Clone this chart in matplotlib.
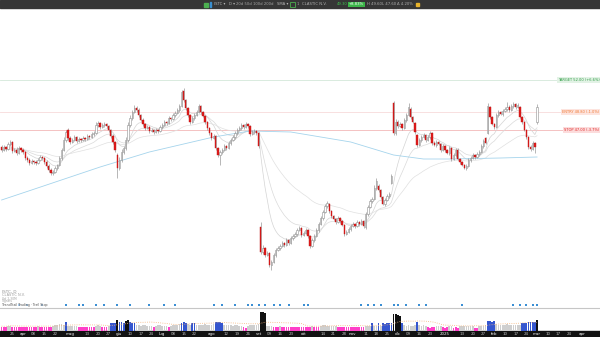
# Daily candlestick chart with levels, signals and heat-coloured volume
import numpy as np
import pandas as pd
import matplotlib
matplotlib.use('Agg')
import matplotlib.pyplot as plt
import matplotlib.patches as patches
from matplotlib.lines import Line2D

start_date = '2024-03-18'

opens = [
    45.3, 45.0, 45.3, 45.1, 45.6, 45.8, 44.9, 45.0, 44.7, 45.2,
    45.0, 44.8, 44.2, 44.0, 43.7, 43.9, 43.8, 43.7, 44.0, 44.3,
    44.2, 43.8, 43.4, 43.0, 42.7, 42.8, 43.2, 43.5, 44.2, 45.0,
    46.0, 47.0, 46.2, 45.8, 46.0, 46.3, 45.9, 46.1, 46.0, 46.2,
    46.1, 46.4, 46.3, 46.6, 46.7, 47.5, 47.7, 47.3, 47.5, 47.6,
    47.4, 47.0, 46.4, 45.8, 44.5, 43.2, 44.0, 44.8, 45.2, 46.0,
    47.5, 48.2, 48.8, 49.2, 49.0, 48.5, 48.0, 47.6, 47.2, 47.3,
    46.9, 47.0, 46.8, 47.0, 46.9, 47.3, 47.5, 47.8, 47.7, 48.2,
    48.1, 48.5, 48.7, 49.0, 49.4, 50.9, 50.0, 49.2, 48.5, 47.8,
    48.2, 48.5, 48.8, 49.4, 48.8, 48.4, 47.8, 47.2, 46.7, 46.2,
    46.4, 45.2, 44.5, 44.8, 45.0, 45.4, 45.2, 45.7, 46.0, 46.3,
    46.7, 47.0, 47.2, 47.5, 47.3, 47.6, 47.4, 46.6, 46.8, 46.9,
    46.7, 37.3, 34.8, 35.2, 34.5, 34.7, 33.5, 33.8, 34.5, 35.0,
    35.2, 35.4, 35.7, 35.5, 36.0, 35.7, 36.2, 36.4, 36.6, 37.0,
    37.2, 36.5, 36.7, 37.0, 36.4, 35.4, 36.0, 36.4, 37.0, 37.6,
    38.2, 38.8, 39.4, 39.6, 38.9, 38.4, 38.1, 37.8, 38.2, 37.9,
    37.5, 36.6, 36.8, 37.1, 37.4, 37.6, 37.4, 37.8, 37.6, 37.9,
    37.3, 38.6, 39.3, 39.9, 40.1, 41.2, 41.4, 41.0, 40.3, 39.6,
    40.0, 40.4, 41.7, 49.7, 46.7, 47.8, 47.4, 47.6, 47.2, 48.0,
    48.5, 49.1, 48.3, 47.7, 46.5, 45.5, 46.0, 46.3, 46.5, 46.0,
    46.3, 46.7, 45.7, 45.5, 45.8, 45.6, 45.0, 45.4, 45.0, 44.7,
    45.2, 44.1, 44.5, 45.0, 44.1, 43.8, 43.5, 43.2, 43.4, 44.0,
    44.2, 44.5, 44.3, 44.6, 44.8, 45.4, 46.2, 46.7, 49.3, 48.3,
    47.6, 47.3, 48.5, 48.8, 48.6, 48.9, 49.1, 49.3, 49.0, 49.4,
    49.6, 49.3, 49.3, 48.3, 47.8, 47.0, 46.3, 45.3, 45.1, 45.7,
    47.8,
]
highs = [
    45.5, 45.5, 45.4, 45.8, 46.0, 45.9, 45.2, 45.3, 45.4, 45.3,
    45.2, 44.9, 44.4, 44.2, 44.1, 44.0, 44.0, 44.2, 44.5, 44.4,
    44.3, 44.0, 43.6, 43.2, 43.0, 43.4, 43.6, 44.4, 45.2, 46.3,
    47.0, 47.2, 46.4, 46.2, 46.5, 46.4, 46.3, 46.2, 46.4, 46.3,
    46.6, 46.5, 46.8, 46.9, 47.8, 47.9, 47.8, 47.7, 47.8, 47.7,
    47.5, 47.1, 46.6, 45.9, 44.7, 44.3, 45.1, 45.4, 46.3, 47.8,
    48.5, 49.0, 49.5, 49.4, 49.2, 48.6, 48.2, 47.7, 47.5, 47.4,
    47.2, 47.1, 47.2, 47.1, 47.5, 47.7, 48.0, 47.9, 48.4, 48.3,
    48.7, 48.9, 49.2, 49.6, 51.0, 51.2, 50.1, 49.3, 48.6, 48.4,
    48.7, 49.0, 49.6, 49.5, 48.9, 48.5, 47.9, 47.3, 46.8, 46.6,
    46.5, 45.3, 45.0, 45.2, 45.6, 45.5, 45.9, 46.2, 46.5, 46.9,
    47.2, 47.4, 47.7, 47.6, 47.8, 47.7, 47.5, 47.0, 47.1, 47.0,
    46.8, 37.8, 35.5, 35.3, 34.9, 34.8, 34.0, 34.7, 35.2, 35.4,
    35.6, 35.9, 35.8, 36.2, 36.1, 36.4, 36.6, 36.8, 37.2, 37.4,
    37.3, 36.9, 37.2, 37.1, 36.5, 36.2, 36.6, 37.2, 37.8, 38.4,
    39.0, 39.6, 39.9, 39.7, 39.0, 38.5, 38.2, 38.4, 38.3, 38.0,
    37.6, 37.0, 37.3, 37.6, 37.8, 37.7, 38.0, 37.9, 38.1, 38.0,
    38.8, 39.5, 40.1, 40.3, 41.5, 42.2, 41.6, 41.1, 40.4, 40.2,
    40.6, 40.8, 42.6, 49.9, 48.1, 48.0, 47.8, 47.7, 48.2, 48.7,
    49.7, 49.3, 48.4, 47.8, 46.6, 46.2, 46.5, 46.7, 46.6, 46.5,
    46.9, 46.8, 45.9, 46.0, 45.9, 45.7, 45.6, 45.5, 45.1, 45.4,
    45.3, 44.7, 45.2, 45.2, 44.2, 43.9, 43.6, 43.6, 44.2, 44.4,
    44.7, 44.6, 44.8, 45.0, 45.6, 46.1, 46.3, 49.7, 49.4, 48.4,
    47.7, 48.7, 49.0, 48.9, 49.1, 49.3, 49.8, 49.5, 49.6, 49.8,
    49.7, 49.7, 49.4, 48.4, 47.9, 47.1, 46.4, 45.5, 45.9, 45.8,
    49.6,
]
lows = [
    44.8, 44.9, 44.9, 45.0, 45.4, 44.7, 44.8, 44.5, 44.6, 44.8,
    44.6, 44.0, 43.8, 43.5, 43.6, 43.6, 43.5, 43.6, 43.9, 44.0,
    43.6, 43.2, 42.8, 42.5, 42.5, 42.7, 43.0, 43.4, 44.0, 44.9,
    45.8, 46.0, 45.6, 45.7, 45.9, 45.7, 45.8, 45.8, 45.9, 45.9,
    46.0, 46.1, 46.2, 46.4, 46.6, 47.3, 47.1, 47.2, 47.3, 47.2,
    46.8, 46.2, 45.6, 44.8, 42.2, 43.0, 43.8, 44.6, 45.0, 45.8,
    47.3, 48.0, 48.7, 48.8, 48.3, 47.9, 47.4, 47.0, 47.1, 46.7,
    46.8, 46.6, 46.7, 46.7, 46.8, 47.1, 47.4, 47.5, 47.6, 47.9,
    48.0, 48.3, 48.6, 48.8, 49.3, 49.8, 49.0, 48.3, 47.6, 47.7,
    48.0, 48.4, 48.7, 48.6, 48.3, 47.6, 47.0, 46.5, 46.0, 46.1,
    45.0, 44.3, 43.5, 44.6, 44.9, 45.0, 45.1, 45.5, 45.9, 46.1,
    46.5, 46.9, 47.0, 47.1, 47.2, 47.2, 46.4, 46.5, 46.6, 46.5,
    45.2, 34.6, 34.6, 34.3, 34.4, 33.3, 33.0, 33.7, 34.3, 34.9,
    35.0, 35.3, 35.3, 35.4, 35.5, 35.6, 36.0, 36.3, 36.4, 36.9,
    36.3, 36.4, 36.6, 36.2, 35.2, 35.3, 35.8, 36.3, 36.8, 37.5,
    38.0, 38.7, 39.2, 38.7, 38.2, 38.0, 37.6, 37.7, 37.7, 37.4,
    36.4, 36.5, 36.7, 36.9, 37.3, 37.2, 37.3, 37.4, 37.5, 37.2,
    37.1, 38.4, 39.2, 39.7, 40.0, 41.0, 40.8, 40.1, 39.5, 39.4,
    39.9, 40.2, 41.6, 46.5, 46.5, 47.2, 47.3, 47.0, 47.1, 47.8,
    48.4, 48.1, 47.7, 46.6, 45.3, 45.4, 45.8, 46.2, 45.8, 45.9,
    46.1, 45.5, 45.4, 45.3, 45.5, 44.8, 44.9, 44.8, 44.6, 44.5,
    43.9, 44.0, 44.3, 44.0, 43.6, 43.4, 43.1, 43.0, 43.3, 43.8,
    44.1, 44.1, 44.2, 44.4, 44.7, 45.2, 45.6, 46.6, 48.1, 47.5,
    47.1, 47.2, 48.3, 48.5, 48.4, 48.8, 48.9, 48.8, 48.9, 49.2,
    49.1, 49.2, 48.2, 47.6, 46.9, 46.1, 45.1, 44.9, 45.0, 44.7,
    47.6,
]
closes = [
    45.0, 45.3, 45.1, 45.6, 45.8, 44.9, 45.0, 44.7, 45.2, 45.0,
    44.8, 44.2, 44.0, 43.7, 43.9, 43.8, 43.7, 44.0, 44.3, 44.2,
    43.8, 43.4, 43.0, 42.7, 42.8, 43.2, 43.5, 44.2, 45.0, 46.0,
    46.8, 46.2, 45.8, 46.0, 46.3, 45.9, 46.1, 46.0, 46.2, 46.1,
    46.4, 46.3, 46.6, 46.7, 47.5, 47.7, 47.3, 47.5, 47.6, 47.4,
    47.0, 46.4, 45.8, 45.0, 43.2, 44.0, 44.8, 45.2, 46.0, 47.5,
    48.2, 48.8, 49.2, 49.0, 48.5, 48.0, 47.6, 47.2, 47.3, 46.9,
    47.0, 46.8, 47.0, 46.9, 47.3, 47.5, 47.8, 47.7, 48.2, 48.1,
    48.5, 48.7, 49.0, 49.4, 50.8, 50.0, 49.2, 48.5, 47.8, 48.2,
    48.5, 48.8, 49.4, 48.8, 48.4, 47.8, 47.2, 46.7, 46.2, 46.4,
    45.2, 44.5, 44.8, 45.0, 45.4, 45.2, 45.7, 46.0, 46.3, 46.7,
    47.0, 47.2, 47.5, 47.3, 47.6, 47.4, 46.6, 46.8, 46.9, 46.7,
    45.4, 34.8, 35.2, 34.5, 34.7, 33.5, 33.8, 34.5, 35.0, 35.2,
    35.4, 35.7, 35.5, 36.0, 35.7, 36.2, 36.4, 36.6, 37.0, 37.2,
    36.5, 36.7, 37.0, 36.4, 35.4, 36.0, 36.4, 37.0, 37.6, 38.2,
    38.8, 39.4, 39.7, 38.9, 38.4, 38.1, 37.8, 38.2, 37.9, 37.5,
    36.6, 36.8, 37.1, 37.4, 37.6, 37.4, 37.8, 37.6, 37.9, 37.4,
    38.6, 39.3, 39.9, 40.1, 41.2, 41.9, 41.0, 40.3, 39.6, 40.0,
    40.4, 40.6, 42.4, 46.7, 47.8, 47.4, 47.6, 47.2, 48.0, 48.5,
    49.3, 48.3, 47.8, 46.8, 45.5, 46.0, 46.3, 46.5, 46.0, 46.3,
    46.7, 45.7, 45.5, 45.8, 45.6, 45.0, 45.4, 45.0, 44.7, 45.2,
    44.1, 44.5, 45.0, 44.1, 43.8, 43.5, 43.2, 43.4, 44.0, 44.2,
    44.5, 44.3, 44.6, 44.8, 45.4, 45.9, 45.7, 49.4, 48.3, 47.6,
    47.3, 48.5, 48.8, 48.6, 48.9, 49.1, 49.3, 49.0, 49.4, 49.6,
    49.3, 49.5, 48.3, 47.8, 47.0, 46.3, 45.3, 45.1, 45.7, 45.3,
    49.3,
]
# volume in millions of shares
volumes = [
    0.85, 0.8, 0.82, 1.05, 1.1, 0.8, 0.78, 0.82, 0.8, 0.8,
    0.78, 0.85, 0.82, 0.8, 0.85, 0.8, 0.78, 1.05, 0.8, 0.82,
    0.85, 0.8, 0.78, 0.8, 1.1, 1.2, 1.3, 1.4, 1.35, 1.3,
    1.85, 1.1, 1.05, 1.0, 1.05, 1.1, 0.8, 0.82, 0.85, 0.8,
    0.78, 0.82, 0.8, 0.85, 1.1, 1.15, 1.05, 0.85, 0.8, 0.82,
    1.1, 1.6, 1.65, 1.7, 2.15, 1.8, 1.75, 1.7, 2.1, 2.15,
    1.9, 1.7, 1.6, 1.3, 1.2, 1.1, 1.15, 1.2, 1.1, 1.05,
    1.1, 0.85, 1.1, 1.15, 1.2, 1.1, 1.05, 1.1, 0.8, 1.1,
    1.2, 1.25, 1.3, 1.4, 1.7, 1.75, 1.6, 1.4, 1.3, 1.7,
    1.65, 1.3, 1.25, 1.2, 1.3, 1.35, 1.2, 1.25, 1.3, 1.4,
    1.8, 1.9, 1.85, 1.6, 1.3, 1.2, 1.15, 1.2, 1.1, 1.15,
    1.2, 1.1, 1.05, 0.75, 0.7, 1.1, 1.2, 1.3, 1.25, 1.3,
    1.4, 3.8, 3.75, 3.7, 1.1, 1.05, 1.0, 0.85, 0.8, 0.85,
    1.0, 0.82, 0.8, 0.85, 0.8, 0.82, 0.78, 0.8, 0.85, 0.82,
    0.8, 0.85, 0.8, 0.78, 0.85, 1.0, 0.82, 0.8, 0.85, 1.1,
    1.15, 1.2, 1.1, 1.05, 1.1, 1.0, 1.05, 0.8, 0.85, 0.8,
    0.82, 0.85, 0.8, 0.78, 0.82, 0.8, 0.85, 0.8, 0.82, 0.78,
    1.0, 1.1, 1.05, 1.6, 1.1, 1.05, 1.55, 1.1, 1.55, 1.5,
    1.6, 1.55, 1.7, 3.45, 3.35, 3.2, 3.0, 1.6, 1.2, 1.1,
    1.15, 1.05, 1.1, 1.2, 1.8, 1.2, 1.1, 1.15, 1.05, 0.75,
    0.7, 0.75, 0.8, 1.0, 1.05, 1.0, 0.75, 0.7, 0.75, 1.05,
    1.0, 0.7, 0.75, 0.7, 1.0, 1.05, 1.1, 1.0, 1.05, 1.1,
    1.0, 0.7, 0.65, 1.0, 1.05, 1.1, 1.2, 1.95, 1.95, 1.9,
    1.95, 1.4, 1.3, 1.25, 1.2, 1.3, 1.35, 1.25, 1.2, 1.3,
    1.25, 1.2, 1.3, 1.55, 1.6, 1.7, 1.8, 1.85, 1.8, 1.75,
    2.3,
]

# 200-day average at a few bars
ma200_bar = [0, 14, 46, 69, 99, 116, 135, 163, 183, 197, 209, 233, 250]
ma200_val = [40.0, 41.0, 43.3, 44.8, 46.3, 46.9, 46.8, 45.8, 44.5, 44.1, 44.1, 44.2, 44.3]

# signal markers (bar numbers)
signals_weak = [8, 12, 19]
signals = [30, 36, 38, 44, 48, 54, 60, 69, 76, 81, 99, 103, 109, 115, 117, 120,
           123, 127, 130, 134, 141, 143, 168, 171, 174, 177, 183, 185, 189, 195,
           198, 215, 239, 242, 245, 248, 250]

target_price = 52.0
entry_price = 48.8
stop_price = 47.0

month_names = ['gen', 'feb', 'mar', 'apr', 'mag', 'giu', 'lug', 'ago', 'set', 'ott', 'nov', 'dic']

n = len(closes)
for name, arr in [('opens', opens), ('highs', highs), ('lows', lows), ('volumes', volumes)]:
    assert len(arr) == n, (name, len(arr), n)

o = np.array(opens)
h = np.array(highs)
l = np.array(lows)
c = np.array(closes)
v = np.array(volumes)
x = np.arange(n)

W, H = 600, 337
def py(y):
    return 1 - y / H

x_left, x_right = -0.75, 279.4

fig = plt.figure(figsize=(6, 3.37), dpi=100)
fig.patch.set_facecolor('white')

# ---- price panel
ax = fig.add_axes([0, py(308), 1, 300 / H])
ax.set_xlim(x_left, x_right)
ax.set_ylim(29.2, 59.2)
ax.set_axis_off()

# level lines
ax.axhline(target_price, color='#d3e8d9', lw=0.6, zorder=0)
ax.axhline(entry_price, color='#f7dada', lw=0.6, zorder=0)
ax.axhline(stop_price, color='#f3b8b8', lw=0.6, zorder=0)

# moving averages
cs = pd.Series(c)
for span, col in [(10, '#d4d4d4'), (20, '#dadada'), (50, '#e0e0e0')]:
    ax.plot(x, cs.ewm(span=span, adjust=False).mean(), color=col, lw=0.5, zorder=1)
ax.plot(ma200_bar, ma200_val, color='#a5d4ec', lw=0.6, zorder=1)

# candles
up = c >= o
body_bottom = np.minimum(o, c)
body_h = np.maximum(np.abs(c - o), 0.06)
ax.vlines(x, l, h, color='#8e8e8e', lw=0.45, zorder=2)
ax.bar(x[up], body_h[up], bottom=body_bottom[up], width=0.62, color='white',
       edgecolor='#8e8e8e', linewidth=0.4, zorder=3)
ax.bar(x[~up], body_h[~up], bottom=body_bottom[~up], width=0.62, color='#e01b1b',
       edgecolor='#c01414', linewidth=0.3, zorder=3)

# right-hand level labels
last = c[-1]
ytr = ax.get_yaxis_transform()
ax.text(0.999, target_price, f'TARGET {target_price:.2f} ({(target_price / entry_price - 1) * 100:+.1f}%)',
        transform=ytr, ha='right', va='center', fontsize=2.6, color='#2f9c45',
        bbox=dict(boxstyle='square,pad=0.3', fc='#e2f2e5', ec='none'), zorder=6)
ax.text(0.999, entry_price, f'ENTRY {entry_price:.2f} ({(entry_price / last - 1) * 100:+.1f}%)',
        transform=ytr, ha='right', va='center', fontsize=2.6, color='#f07a35',
        bbox=dict(boxstyle='square,pad=0.3', fc='#fde4de', ec='none'), zorder=6)
ax.text(0.999, stop_price, f'STOP {stop_price:.2f} ({(stop_price / entry_price - 1) * 100:+.1f}%)',
        transform=ytr, ha='right', va='center', fontsize=2.6, color='#e02b2b',
        bbox=dict(boxstyle='square,pad=0.3', fc='#fcdcdc', ec='none'), zorder=6)

# signal row
xtr = ax.get_xaxis_transform()
ax.scatter(signals_weak, [0.01] * len(signals_weak), transform=xtr, marker='s', s=3.5,
           color='#a9cbe9', linewidths=0, zorder=5)
ax.scatter(signals, [0.01] * len(signals), transform=xtr, marker='s', s=3.5,
           color='#3b8fd4', linewidths=0, zorder=5)

# separator
fig.add_artist(Line2D([0, 1], [py(308.3), py(308.3)], color='#c6c6c6', lw=0.8))

# ---- volume panel
vax = fig.add_axes([0, py(331), 1, 20 / H])
vax.set_xlim(x_left, x_right)
vax.set_ylim(0, 4.0)
vax.set_axis_off()
vcol = np.where(v >= 2.05, '#111111',
        np.where(v >= 1.5, '#3556cf',
        np.where(v >= 0.95, '#cfcfcf', '#ff3fc8')))
vax.bar(x, v, width=0.8, color=vcol, linewidth=0)
vax.plot(x, pd.Series(v).rolling(20, min_periods=1).mean() * 1.15, ':',
         color='#f4b47c', lw=0.6)

# ---- date band
fig.add_artist(patches.Rectangle((0, 0), 1, 6.2 / H, transform=fig.transFigure,
                                 color='#121212', zorder=0))
bax = fig.add_axes([0, 0, 1, 6.2 / H])
bax.set_xlim(x_left, x_right)
bax.set_ylim(0, 1)
bax.set_axis_off()
dates = pd.bdate_range(start_date, periods=int(x_right) + 1)
month_starts = [i for i in range(1, len(dates)) if dates[i].month != dates[i - 1].month]
for i, d in enumerate(dates):
    if i in month_starts:
        lbl = str(d.year) if d.month == 1 else month_names[d.month - 1]
        bax.text(i, 0.45, lbl, ha='center', va='center', fontsize=2.9, color='#f2f2f2')
    elif d.weekday() == 0 and i >= 2:
        near = any(-3 <= i - m <= 4 for m in month_starts)
        if not near:
            bax.text(i, 0.45, f'{d.day:02d}', ha='center', va='center', fontsize=2.9, color='#bdbdbd')

# ---- top toolbar
fig.add_artist(patches.Rectangle((0, py(8)), 1, 8 / H, transform=fig.transFigure,
                                 color='#363636', zorder=0))
fig.add_artist(patches.Rectangle((204 / W, py(6.5)), 4 / W, 4 / H, transform=fig.transFigure,
                                 color='#4caf50'))
fig.add_artist(patches.Rectangle((209.5 / W, py(7)), 1.6 / W, 5 / H, transform=fig.transFigure,
                                 color='#3a8fd0'))
fig.add_artist(patches.Rectangle((290 / W, py(6.5)), 4.5 / W, 4.5 / H, transform=fig.transFigure,
                                 fill=False, ec='#4caf50', lw=0.6))
fig.add_artist(patches.Rectangle((416 / W, py(6)), 3 / W, 3.5 / H, transform=fig.transFigure,
                                 color='#e8b32a'))
prev = c[-2]
chg = (last / prev - 1) * 100
ty = py(4.3)
bar_items = [
    (214, 'ISTC ▾', '#b5b5b5'),
    (229, 'D ▾', '#b5b5b5'),
    (236, '20d 50d 100d 200d', '#a5a5a5'),
    (277, 'SMA ▾', '#b5b5b5'),
    (297, '1', '#a5a5a5'),
    (302, 'CLASTIC N.V.', '#b0b0b0'),
    (337, f'{last:.2f}', '#3fc24e'),
    (367, f'H {h[-1]:.2f}', '#b0b0b0'),
    (382, f'L {l[-1]:.2f}', '#b0b0b0'),
    (397, f'\u0394 {(h[-1] / l[-1] - 1) * 100:.2f}%', '#b0b0b0'),
]
for xp, txt, col in bar_items:
    fig.text(xp / W, ty, txt, fontsize=2.7, color=col, ha='left', va='center')
fig.text(349 / W, ty, f'{chg:+.2f}%', fontsize=2.7, color='white', ha='left', va='center',
         bbox=dict(boxstyle='square,pad=0.2', fc='#3cb549', ec='none'))

# ---- legend text, lower left
left_items = [
    (292, 'ISTC, D', 3.0, '#8c8c8c'),
    (295.5, 'CLASTIC N.V.', 2.5, '#9a9a9a'),
    (298.5, f'Vol {v[-1]:.2f}M', 2.2, '#a0a0a0'),
    (301.3, 'Signals', 2.2, '#a0a0a0'),
    (305, 'TrendTrail Trading \u00b7 Trail Stop', 2.3, '#555555'),
]
for yp, txt, fs, col in left_items:
    fig.text(2 / W, py(yp), txt, fontsize=fs, color=col, ha='left', va='center')

fig.savefig('out.png', dpi=100, facecolor='white')
